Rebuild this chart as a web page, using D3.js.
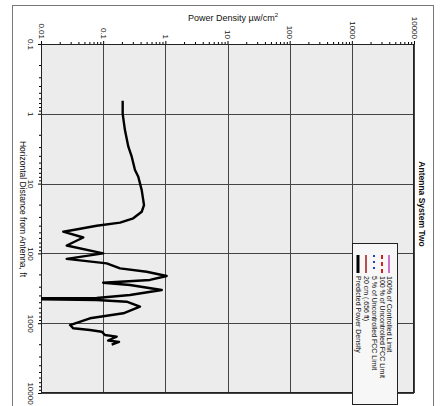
<!DOCTYPE html>
<html>
<head>
<meta charset="utf-8">
<script src="https://cdn.jsdelivr.net/npm/d3@7"></script>
<style>
  body { margin: 0; background: #fff; }
  text { font-family: 'Liberation Sans', Arial, sans-serif; fill: #111; }
</style>
</head>
<body>
<div id="chart"></div>
<script>
// horizontal distance from antenna (ft) and predicted power density (uW/cm2)
const distance = [0.65, 1.0, 1.71, 2.96, 4.12, 6.38, 7.96, 12.4, 20.3, 25.3, 31.4, 36.3, 40.1, 46.2, 48.9,
  59.2, 77.1, 100, 120, 139, 164, 183, 211, 240, 263, 284, 334, 394, 436, 440, 445, 465, 492, 580, 721,
  851, 1062, 1183, 1250, 1324, 1476, 1560, 1770, 1850, 2030]
const power = [0.206, 0.206, 0.224, 0.254, 0.288, 0.325, 0.367, 0.417, 0.454, 0.417, 0.305, 0.187, 0.0787, 0.0331, 0.0228,
  0.0479, 0.0259, 0.1, 0.0259, 0.114, 0.187, 0.501, 1.05, 0.566, 0.1, 0.27, 0.874, 0.27, 0.0787, 0.002, 0.002, 0.0787, 0.239, 0.391, 0.211,
  0.0614, 0.0293, 0.0331, 0.0614, 0.0947, 0.107, 0.165, 0.12, 0.18, 0.137]

const powerTicks = [0.01, 0.1, 1, 10, 100, 1000, 10000]
const powerLabels = ['0.01', '0.1', '1', '10', '100', '1000', '10000']
const distanceTicks = [0.1, 1, 10, 100, 1000, 10000]
const distanceLabels = ['0.1', '1', '10', '100', '1000', '10000']

const legendLabels = ['100% of Controlled Limit', '100 % of Uncontrolled FCC Limit', '5 % of Uncontrolled FCC Limit', '20 cm (.656 ft)', 'Predicted Power Density']
const legendColors = ['#c040c0', '#d02020', '#2040c0', '#a01818', '#000']
const legendDash = [null, '4,3', '2,4', null, null]
const legendWidth = [1.5, 2, 2, 1.5, 3]

const width = 448
const height = 406
const plot = { left: 41, right: 414, top: 44, bottom: 393 }

const svg = d3.select('#chart')
  .append('svg')
  .attr('width', width)
  .attr('height', height)

// page frame
svg.append('rect')
  .attr('x', 12.5).attr('y', 5.5)
  .attr('width', 421).attr('height', 410)
  .attr('fill', 'none')
  .attr('stroke', '#777')

const x = d3.scaleLog().domain([0.01, 10000]).range([plot.left, plot.right])
const y = d3.scaleLog().domain([0.1, 10000]).range([plot.top, plot.bottom])

svg.append('rect')
  .attr('x', plot.left).attr('y', plot.top)
  .attr('width', plot.right - plot.left)
  .attr('height', plot.bottom - plot.top)
  .attr('fill', '#ececec')

const minors = (lo, hi) => {
  const out = []
  for (let d = lo; d < hi; d *= 10) {
    for (let k = 2; k <= 9; k++) out.push(d * k)
  }
  return out
}

// grid
svg.append('g')
  .selectAll('line')
  .data(powerTicks)
  .enter().append('line')
  .attr('x1', d => Math.round(x(d)) + 0.5)
  .attr('x2', d => Math.round(x(d)) + 0.5)
  .attr('y1', plot.top).attr('y2', plot.bottom)
  .attr('stroke', '#444')

svg.append('g')
  .selectAll('line')
  .data(distanceTicks)
  .enter().append('line')
  .attr('y1', d => Math.round(y(d)) + 0.5)
  .attr('y2', d => Math.round(y(d)) + 0.5)
  .attr('x1', plot.left).attr('x2', plot.right)
  .attr('stroke', '#444')

// top axis (power density)
const topAxis = svg.append('g')
  .attr('transform', `translate(0,${plot.top})`)
  .call(d3.axisTop(x).tickValues(powerTicks).tickFormat((_, i) => powerLabels[i]).tickSize(3))
topAxis.call(g => g.select('.domain').attr('stroke', '#222'))
topAxis.selectAll('text')
  .attr('transform', 'rotate(90)')
  .attr('x', -5).attr('y', 0).attr('dy', '0.35em')
  .attr('text-anchor', 'end')
  .attr('font-size', 8)
  .attr('font-family', null)

svg.append('g')
  .attr('transform', `translate(0,${plot.top})`)
  .call(d3.axisTop(x).tickValues(minors(0.01, 10000)).tickFormat('').tickSize(2))
  .call(g => g.select('.domain').remove())

// left axis (distance)
const leftAxis = svg.append('g')
  .attr('transform', `translate(${plot.left},0)`)
  .call(d3.axisLeft(y).tickValues(distanceTicks).tickFormat((_, i) => distanceLabels[i]).tickSize(3))
leftAxis.call(g => g.select('.domain').attr('stroke', '#222'))
leftAxis.selectAll('text')
  .attr('transform', 'rotate(90)')
  .attr('x', 0).attr('y', 10).attr('dy', '0.35em')
  .attr('text-anchor', 'middle')
  .attr('font-size', 8)
  .attr('font-family', null)

svg.append('g')
  .attr('transform', `translate(${plot.left},0)`)
  .call(d3.axisLeft(y).tickValues(minors(0.1, 10000)).tickFormat('').tickSize(2))
  .call(g => g.select('.domain').remove())

// plot border
svg.append('rect')
  .attr('x', plot.left + 0.5).attr('y', plot.top + 0.5)
  .attr('width', plot.right - plot.left - 1)
  .attr('height', plot.bottom - plot.top - 1)
  .attr('fill', 'none')
  .attr('stroke', '#222')

// curve
svg.append('clipPath').attr('id', 'clip')
  .append('rect')
  .attr('x', plot.left).attr('y', plot.top)
  .attr('width', plot.right - plot.left)
  .attr('height', plot.bottom - plot.top)

const line = d3.line()
  .x((_, i) => x(power[i]))
  .y(d => y(d))

svg.append('path')
  .datum(distance)
  .attr('clip-path', 'url(#clip)')
  .attr('d', line)
  .attr('fill', 'none')
  .attr('stroke', '#000')
  .attr('stroke-width', 2.4)
  .attr('stroke-linejoin', 'round')

// titles
svg.append('text')
  .attr('x', 233).attr('y', 21)
  .attr('text-anchor', 'middle')
  .attr('font-size', 9)
  .text('Power Density µw/cm')
  .append('tspan')
  .attr('dy', -4)
  .attr('font-size', 6)
  .text('2')

svg.append('text')
  .attr('transform', 'translate(20,209) rotate(90)')
  .attr('text-anchor', 'middle')
  .attr('font-size', 8.5)
  .text('Horizontal Distance from Antenna, ft')

svg.append('text')
  .attr('transform', 'translate(419,204) rotate(90)')
  .attr('text-anchor', 'middle')
  .attr('font-size', 8.5)
  .attr('font-weight', 'bold')
  .text('Antenna System Two')

// legend
const legend = svg.append('g')
legend.append('rect')
  .attr('x', 352.5).attr('y', 243.5)
  .attr('width', 45).attr('height', 161)
  .attr('fill', '#f7f7f7')
  .attr('stroke', '#222')

const legendX = [389, 382, 374, 366, 358]
const item = legend.selectAll('.legend')
  .data(legendLabels)
  .enter().append('g')
  .attr('class', 'legend')
  .attr('transform', (_, i) => `translate(${legendX[i]},0)`)

item.append('line')
  .attr('x1', 0).attr('x2', 0)
  .attr('y1', 255).attr('y2', 273)
  .attr('stroke', (_, i) => legendColors[i])
  .attr('stroke-width', (_, i) => legendWidth[i])
  .attr('stroke-dasharray', (_, i) => legendDash[i])

item.append('text')
  .attr('transform', 'translate(0,276) rotate(90)')
  .attr('dy', '0.35em')
  .attr('font-size', 7)
  .text(d => d)
</script>
</body>
</html>
